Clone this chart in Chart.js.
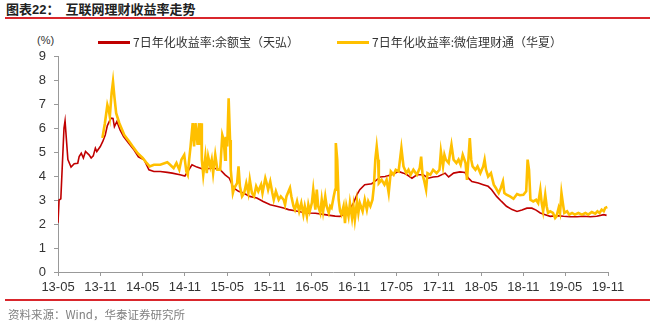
<!DOCTYPE html>
<html lang="zh">
<head>
  <meta charset="UTF-8" />
  <title>互联网理财收益率走势</title>
  <script src="https://cdn.jsdelivr.net/npm/chart.js"></script>
  <style>
    body {
      margin: 0;
      padding: 0;
      width: 650px;
      height: 322px;
      background: #fff;
      position: relative;
      overflow: hidden;
      font-family: 'Liberation Sans', 'Noto Sans CJK SC', sans-serif;
    }

    #chart {
      position: absolute;
      left: 0;
      top: 0;
    }

    .title {
      position: absolute;
      left: 6px;
      top: -1px;
      font-family: 'Noto Sans CJK SC', sans-serif;
      font-weight: bold;
      font-size: 13px;
      color: #222;
      white-space: nowrap;
    }

    .title .num {
      font-family: 'Liberation Sans', sans-serif;
    }

    .rule {
      position: absolute;
      left: 5px;
      right: 0;
      height: 2px;
      background: #d9262c;
    }

    .unit {
      position: absolute;
      left: 37px;
      top: 34px;
      font-size: 11px;
      color: #333;
    }

    .legend {
      position: absolute;
      top: 34px;
      font-family: 'Noto Sans CJK SC', sans-serif;
      font-size: 12px;
      color: #333;
      white-space: nowrap;
      line-height: 16px;
    }

    .legend i {
      display: inline-block;
      width: 32px;
      height: 3px;
      vertical-align: middle;
      margin-right: 3px;
      margin-top: -2px;
    }

    .source {
      position: absolute;
      left: 8px;
      top: 306px;
      font-family: 'Noto Sans CJK SC', sans-serif;
      font-size: 11.5px;
      color: #808080;
      white-space: nowrap;
    }
  </style>
</head>
<body>

  <div class="title">图表<span class="num">22</span>：&nbsp;&nbsp;互联网理财收益率走势</div>
  <div class="rule" style="top:17px"></div>
  <div class="unit">(%)</div>
  <div id="legend"></div>
  <canvas id="chart" width="650" height="322"></canvas>
  <div class="rule" style="top:299px"></div>
  <div class="source">资料来源：Wind，华泰证券研究所</div>

  <script>
    // x values are months counted from 2013-05
    const tickLabels = ['13-05', '13-11', '14-05', '14-11', '15-05', '15-11', '16-05',
                        '16-11', '17-05', '17-11', '18-05', '18-11', '19-05', '19-11'];

    const seriesNames = ['7日年化收益率:余额宝（天弘）', '7日年化收益率:微信理财通（华夏）'];

    const yebMonth = [
      0, 0.15, 0.4, 0.85, 1.0, 1.4, 1.85, 2.3, 2.8, 3.0,
      3.3, 3.6, 3.9, 4.4, 4.7, 5.0, 5.3, 5.5, 6.0, 6.35,
      6.7, 7.0, 7.5, 7.8, 8.0, 8.35, 8.8, 9.3, 10.0, 10.7,
      11.4, 12.2, 12.9, 13.6, 14.5, 15.5, 16.2, 17.3, 18.0, 19.0,
      19.7, 20.6, 22.0, 23.0, 23.7, 24.3, 24.9, 25.6, 26.3, 27.2,
      28.2, 29.1, 30.1, 31.0, 32.0, 32.7, 33.6, 34.5, 35.5, 36.5,
      37.4, 38.3, 39.3, 40.0, 40.5, 41.2, 41.9, 42.4, 42.8, 43.5,
      44.5, 45.2, 45.7, 46.4, 47.3, 48.3, 49.0, 49.5, 50.2, 50.9,
      51.8, 52.5, 53.2, 53.9, 54.9, 55.4, 56.1, 57.0, 57.7, 58.2,
      58.7, 59.6, 60.3, 61.0, 61.5, 62.2, 62.9, 63.6, 64.4, 65.1,
      65.8, 66.5, 67.2, 67.8, 68.4, 69.1, 69.8, 70.7, 71.7, 72.6,
      73.6, 74.5, 75.5, 76.4, 77.4, 77.8
    ];
    const yebRate = [
      2.05, 3.0, 3.05, 6.0, 6.3, 4.68, 4.37, 4.51, 4.53, 4.81,
      4.95, 4.75, 5.02, 4.88, 4.75, 4.84, 5.16, 5.02, 5.23, 5.44,
      5.71, 6.1, 6.41, 6.4, 6.06, 6.27, 5.92, 5.64, 5.37, 5.12,
      4.8, 4.68, 4.26, 4.19, 4.19, 4.15, 4.12, 4.05, 4.0, 4.47,
      4.37, 4.28, 4.33, 4.26, 4.05, 3.91, 3.5, 3.36, 3.29, 3.15,
      3.08, 2.94, 2.8, 2.74, 2.67, 2.6, 2.55, 2.5, 2.46, 2.45,
      2.41, 2.37, 2.33, 2.32, 2.39, 2.53, 2.87, 3.22, 3.43, 3.64,
      3.68, 3.84, 3.96, 3.98, 4.05, 4.19, 4.12, 4.05, 3.91, 4.05,
      4.05, 3.91, 3.96, 3.98, 4.12, 3.96, 4.12, 4.17, 4.15, 3.91,
      3.77, 3.71, 3.64, 3.57, 3.43, 3.15, 2.94, 2.74, 2.6, 2.52,
      2.58, 2.66, 2.66, 2.58, 2.46, 2.39, 2.32, 2.35, 2.32, 2.3,
      2.3, 2.32, 2.3, 2.32, 2.39, 2.36
    ];

    const wxMonth = [
      6.3, 6.65, 7.0, 7.2, 7.35, 7.6, 7.8, 8.0, 8.25, 8.7,
      9.4, 10.1, 10.6, 11.3, 12.0, 12.5, 13.0, 13.6, 14.5, 15.5,
      15.9, 16.4, 16.8, 17.2, 17.5, 17.9, 18.2, 18.4, 18.6, 18.8,
      19.1, 19.3, 19.5, 19.8, 20.0, 20.1, 20.3, 20.4, 20.6, 20.9,
      21.1, 21.3, 21.6, 21.8, 22.0, 22.3, 22.6, 23.0, 23.3, 23.5,
      23.7, 23.8, 24.0, 24.2, 24.4, 24.5, 24.8, 25.0, 25.4, 25.6,
      25.8, 26.1, 26.4, 26.7, 27.0, 27.2, 27.5, 27.8, 28.1, 28.4,
      28.8, 29.0, 29.4, 29.6, 29.8, 30.1, 30.4, 30.6, 30.9, 31.3,
      31.6, 32.0, 32.2, 32.4, 32.7, 32.9, 33.1, 33.4, 33.6, 33.9,
      34.2, 34.5, 34.8, 35.0, 35.3, 35.5, 35.7, 36.0, 36.2, 36.5,
      36.7, 36.9, 37.2, 37.4, 37.6, 37.9, 38.1, 38.4, 38.6, 38.8,
      39.1, 39.3, 39.4, 39.6, 39.8, 40.0, 40.2, 40.5, 40.7, 40.9,
      41.2, 41.4, 41.7, 41.9, 42.1, 42.4, 42.6, 42.8, 43.2, 43.5,
      43.8, 44.0, 44.3, 44.6, 44.8, 45.0, 45.2, 45.4, 45.5, 45.9,
      46.3, 46.6, 46.9, 47.2, 47.6, 47.9, 48.3, 48.7, 49.0, 49.4,
      49.7, 50.0, 50.4, 50.9, 51.3, 51.5, 51.7, 51.9, 52.2, 52.4,
      52.8, 53.2, 53.7, 54.1, 54.3, 54.6, 54.8, 55.0, 55.4, 55.6,
      55.8, 56.1, 56.5, 56.8, 57.1, 57.4, 57.8, 58.0, 58.2, 58.4,
      58.6, 58.8, 59.2, 59.5, 59.9, 60.3, 60.5, 60.7, 61.0, 61.4,
      61.8, 62.1, 62.5, 62.8, 63.1, 63.3, 63.6, 64.1, 64.6, 65.1,
      65.5, 66.0, 66.4, 66.6, 66.8, 67.0, 67.4, 67.8, 68.1, 68.4,
      68.6, 68.8, 69.1, 69.3, 69.5, 69.8, 70.2, 70.5, 70.7, 71.0,
      71.2, 71.4, 71.6, 71.8, 72.2, 72.5, 72.9, 73.3, 73.8, 74.3,
      74.8, 75.2, 75.7, 76.2, 76.5, 76.8, 77.1, 77.4, 77.6, 77.9
    ];
    const wxRate = [
      5.58, 6.2, 6.96, 6.75, 6.48, 7.45, 7.93, 7.3, 6.62, 6.2,
      5.71, 5.44, 5.23, 4.95, 4.75, 4.57, 4.4, 4.47, 4.47, 4.57,
      4.47, 4.33, 4.54, 4.26, 4.68, 4.88, 4.19, 4.05, 4.68, 5.23,
      6.2, 5.23, 6.2, 5.3, 6.2, 5.3, 6.2, 4.68, 4.05, 4.81,
      4.12, 4.81, 4.4, 4.68, 4.12, 4.88, 4.26, 4.26, 5.71, 5.5,
      4.68, 5.64, 5.23, 7.24, 5.5, 4.26, 3.29, 3.5, 3.7, 4.4,
      3.57, 3.15, 3.29, 3.7, 3.29, 3.84, 3.29, 3.15, 3.57, 3.36,
      3.64, 3.29, 3.91, 3.7, 3.43, 3.77, 3.29, 3.01, 3.36, 3.01,
      3.15, 3.01, 2.8, 3.15, 3.36, 3.5, 3.15, 2.74, 2.6, 2.94,
      2.53, 2.87, 2.39, 2.74, 2.32, 2.8, 2.53, 2.87, 3.43, 2.6,
      3.43, 2.74, 2.46, 3.01, 2.53, 3.15, 2.74, 2.46, 2.74, 2.67,
      3.15, 3.43, 5.37, 4.68, 3.01, 2.53, 2.39, 2.74, 2.04, 2.74,
      2.32, 2.87, 2.25, 2.74, 2.18, 2.94, 2.46, 2.87, 2.53, 3.01,
      2.6, 2.94, 2.74, 3.01, 3.57, 4.68, 5.23, 4.68, 3.7, 3.84,
      3.64, 3.84, 3.29, 4.19, 4.05, 4.26, 4.19, 5.16, 4.4, 4.12,
      4.26, 4.05, 4.26, 4.05, 4.33, 4.81, 4.05, 3.84, 3.43, 4.12,
      4.05, 4.26, 4.12, 4.26, 5.02, 4.4, 4.88, 4.68, 4.54, 4.95,
      5.3, 4.68, 4.54, 4.68, 4.47, 4.88, 4.54, 3.84, 4.68, 5.58,
      4.68, 4.4, 4.26, 4.4, 4.12, 4.4, 4.68, 4.26, 3.98, 4.12,
      3.64, 3.5, 3.29, 3.5, 3.77, 3.29, 3.22, 3.15, 3.05, 3.25,
      3.2, 3.22, 3.36, 4.68, 4.26, 3.01, 2.94, 3.01, 2.87, 3.43,
      2.87, 2.53, 3.22, 2.74, 2.46, 2.53, 2.46, 2.25, 2.32, 2.67,
      2.46, 3.29, 2.87, 2.46, 2.53, 2.39, 2.46, 2.39, 2.46, 2.39,
      2.46, 2.39, 2.5, 2.43, 2.53, 2.46, 2.6, 2.53, 2.67, 2.71
    ];

    const lineColors = ['#c00000', '#ffc000'];

    function points(xs, ys) {
      return xs.map((x, i) => ({ x: x, y: ys[i] }));
    }

    // simple html legend
    const legendLeft = [98, 337];
    seriesNames.forEach((name, i) => {
      const el = document.createElement('div');
      el.className = 'legend';
      el.style.left = legendLeft[i] + 'px';
      el.innerHTML = '<i style="background:' + lineColors[i] + '"></i>' + name;
      document.body.appendChild(el);
    });

    const tickFont = { family: "'Liberation Sans', Arial, sans-serif", size: 13 };

    const ctx = document.getElementById('chart').getContext('2d');
    const rateChart = new Chart(ctx, {
      type: 'line',
      data: {
        datasets: [
          {
            label: seriesNames[0],
            data: points(yebMonth, yebRate),
            borderColor: lineColors[0],
            borderWidth: 1.6,
            pointRadius: 0,
            tension: 0,
            order: 2
          },
          {
            label: seriesNames[1],
            data: points(wxMonth, wxRate),
            borderColor: lineColors[1],
            borderWidth: 2.6,
            pointRadius: 0,
            tension: 0,
            order: 1
          }
        ]
      },
      options: {
        responsive: false,
        animation: false,
        layout: {
          padding: { left: 0, right: 42, top: 56, bottom: 26 }
        },
        scales: {
          x: {
            type: 'linear',
            min: 0,
            max: 78,
            afterFit: (scale) => { scale.height = 24; },
            grid: {
              drawOnChartArea: false,
              color: '#999',
              tickLength: 4
            },
            border: { color: '#999' },
            ticks: {
              stepSize: 6,
              autoSkip: false,
              maxRotation: 0,
              padding: 4,
              color: '#333',
              font: tickFont,
              callback: (v) => tickLabels[v / 6]
            }
          },
          y: {
            min: 0,
            max: 9,
            afterFit: (scale) => { scale.width = 58; },
            grid: {
              drawOnChartArea: false,
              color: '#999',
              tickLength: 4
            },
            border: { color: '#999' },
            ticks: {
              stepSize: 1,
              padding: 8,
              color: '#333',
              font: tickFont
            }
          }
        },
        plugins: {
          legend: { display: false },
          tooltip: { enabled: false }
        }
      }
    });
  </script>

</body>
</html>
